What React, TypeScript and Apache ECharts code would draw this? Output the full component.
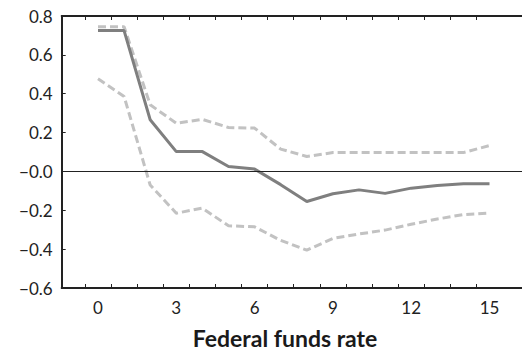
import React, { useEffect, useRef } from "react";
import * as echarts from "echarts";

const rates = [0, 1, 2, 3, 4, 5, 6, 7, 8, 9, 10, 11, 12, 13, 14, 15];
const estimate = [0.725, 0.725, 0.266, 0.102, 0.102, 0.025, 0.012, -0.068, -0.155, -0.115, -0.095, -0.113, -0.086, -0.072, -0.064, -0.064];
const upperBand = [0.745, 0.745, 0.343, 0.248, 0.268, 0.226, 0.223, 0.115, 0.077, 0.097, 0.097, 0.097, 0.097, 0.097, 0.097, 0.133];
const lowerBand = [0.477, 0.386, -0.07, -0.215, -0.189, -0.28, -0.285, -0.355, -0.405, -0.345, -0.322, -0.302, -0.272, -0.245, -0.222, -0.215];
const xTickValues = [-0.5, 0.5, 1.5, 2.5, 3.5, 4.5, 5.5, 6.5, 7.5, 8.5, 9.5, 10.5, 11.5, 12.5, 13.5, 14.5];
const xLabelValues = [0, 3, 6, 9, 12, 15];
const xTitle = "Federal funds rate";

const FONT = "Lato";

export default function App() {
  const ref = useRef<HTMLDivElement>(null);
  useEffect(() => {
    if (!ref.current) return;
    const chart = echarts.init(ref.current, null, { renderer: "svg" });
    const pairs = (vals: number[]) => rates.map((r, i) => [r, vals[i]]);
    const xMin = -1.39;
    const xMax = 16.245;
    chart.setOption({
      animation: false,
      backgroundColor: "#ffffff",
      grid: { left: 61.7, top: 16, right: 0, bottom: 67 },
      xAxis: [
        {
          type: "value",
          position: "bottom",
          min: xMin,
          max: xMax,
          splitLine: { show: false },
          axisLine: { show: true, onZero: false, lineStyle: { color: "#222", width: 2 } },
          axisTick: { show: true, inside: true, length: 4, customValues: xTickValues, lineStyle: { color: "#222", width: 1 } },
          axisLabel: {
            show: true,
            customValues: xLabelValues,
            margin: 11,
            color: "#222",
            fontFamily: FONT,
            fontSize: 17,
          },
        },
        {
          type: "value",
          position: "top",
          min: xMin,
          max: xMax,
          splitLine: { show: false },
          axisLine: { show: true, onZero: false, lineStyle: { color: "#222", width: 2 } },
          axisTick: { show: true, inside: true, length: 4, customValues: xTickValues, lineStyle: { color: "#222", width: 1 } },
          axisLabel: { show: false },
        },
      ],
      yAxis: {
        type: "value",
        min: -0.6,
        max: 0.8,
        interval: 0.2,
        splitLine: { show: false },
        axisLine: { show: true, onZero: false, lineStyle: { color: "#222", width: 2 } },
        axisTick: { show: true, inside: true, length: 4, lineStyle: { color: "#222", width: 1 } },
        axisLabel: {
          margin: 9,
          color: "#222",
          fontFamily: FONT,
          fontSize: 17,
          formatter: (v: number) => {
            const r = Math.round(v * 10) / 10;
            if (Math.abs(r) < 1e-9) return "\u22120.0";
            return r < 0 ? "\u2212" + Math.abs(r).toFixed(1) : r.toFixed(1);
          },
        },
      },
      graphic: [
        {
          type: "text",
          x: 285,
          y: 338,
          style: {
            text: xTitle,
            fontFamily: FONT,
            fontWeight: "bold",
            fontSize: 23,
            fill: "#1a1a1a",
            align: "center",
            verticalAlign: "middle",
          },
        },
      ],
      series: [
        {
          name: "Upper",
          type: "line",
          data: pairs(upperBand),
          showSymbol: false,
          symbol: "none",
          lineStyle: { color: "#c2c2c2", width: 3, type: [8, 4] },
          z: 2,
        },
        {
          name: "Lower",
          type: "line",
          data: pairs(lowerBand),
          showSymbol: false,
          symbol: "none",
          lineStyle: { color: "#c2c2c2", width: 3, type: [8, 4] },
          z: 2,
        },
        {
          name: "Estimate",
          type: "line",
          data: pairs(estimate),
          showSymbol: false,
          symbol: "none",
          lineStyle: { color: "#7f7f7f", width: 3 },
          z: 3,
          markLine: {
            silent: true,
            symbol: "none",
            label: { show: false },
            lineStyle: { color: "#222", width: 1, type: "solid" },
            data: [{ yAxis: 0 }],
          },
        },
      ],
    });
    return () => chart.dispose();
  }, []);
  return (
    <div
      ref={ref}
      style={{ position: "absolute", left: 0, top: 0, width: 522, height: 355 }}
    />
  );
}
